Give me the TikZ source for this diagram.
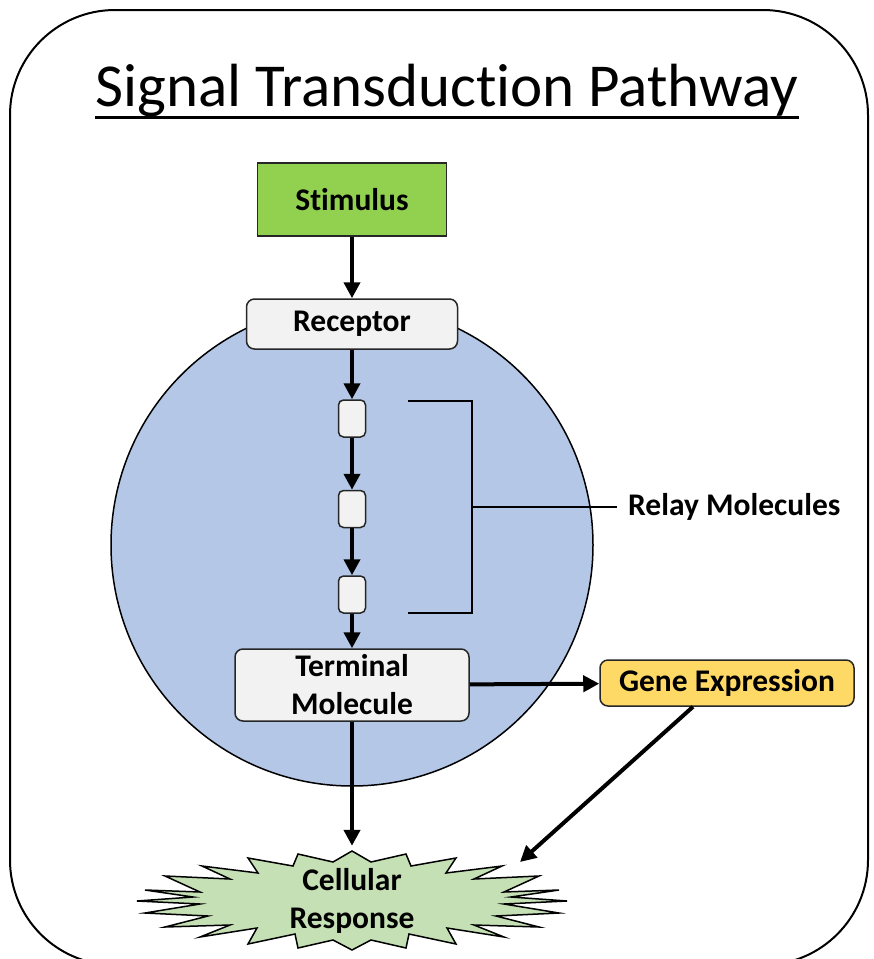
\documentclass[tikz,border=0pt]{standalone}
\usepackage{fontspec}
\setmainfont[RawFeature=-liga]{Carlito}
\usetikzlibrary{arrows.meta,positioning,calc}
\definecolor{stimgreen}{HTML}{92D050}
\definecolor{cellblue}{HTML}{B4C7E7}
\definecolor{boxgray}{HTML}{F2F2F2}
\definecolor{genegold}{HTML}{FFD966}
\definecolor{burstgreen}{HTML}{C5E0B4}
\tikzset{
  box/.style    = {draw=black!85, line width=1.5pt, rectangle, rounded corners=8pt,
                   fill=boxgray, align=center, inner sep=0pt,
                   font=\bfseries\fontsize{31.5}{38}\selectfont},
  relaybox/.style = {box, minimum width=27pt, minimum height=37pt, rounded corners=5pt},
  sig/.style    = {-{Triangle[length=16pt,width=16pt]}, line width=4pt},
  brack/.style  = {line width=1.5pt},
}
\begin{document}
\begin{tikzpicture}[x=1pt, y=-1pt]
\useasboundingbox (0,0) rectangle (874,959);
% frame and title
\draw[line width=2pt, rounded corners=105pt] (10,10) rectangle (868,965);
\node[font=\fontsize{61}{70}\selectfont, anchor=base, inner sep=0pt] (title) at (447,106)
  {Signal Transduction Pathway};
\draw[line width=3pt] ($(title.base west)+(0,11)$) -- ($(title.base east)+(0,11)$);
% cell
\node[circle, draw, line width=1.5pt, fill=cellblue, minimum size=482pt] (cell) at (352,545) {};
% boxes
\node[box, rounded corners=0pt, fill=stimgreen, minimum width=189pt, minimum height=73pt]
  (stim) at (352,199.5) {Stimulus};
\node[box, minimum width=211pt, minimum height=50pt] (rec) at (352,324) {Receptor};
\node[relaybox] (r1) at (352,418.5) {};
\node[relaybox] (r2) at (352,509) {};
\node[relaybox] (r3) at (352,594.5) {};
\node[box, minimum width=234pt, minimum height=72pt] (term) at (352,685)
  {Terminal\\Molecule};
\node[box, fill=genegold, minimum width=254pt, minimum height=46pt] (gene) at (727,683)
  {Gene Expression};
\node[font=\bfseries\fontsize{31.5}{38}\selectfont, anchor=west, inner xsep=11pt, inner ysep=0pt]
  (lbl) at (617,507) {Relay Molecules};
% cellular response burst
\draw[fill=burstgreen, line width=1.5pt] plot coordinates {
  (352,851) (333,862) (298,854) (293,866) (248,858) (258,873) (202,866) (230,879)
  (165,876) (200,892) (145,890) (193,897) (137,901) (200,904) (145,913) (208,916)
  (165,927) (230,925) (200,937) (257,928) (248,944) (295,934) (298,948) (333,940)
  (352,950) (371,940) (406,948) (409,934) (456,944) (447,928) (504,937) (474,925)
  (539,927) (496,916) (559,913) (504,904) (567,901) (511,897) (559,890) (504,892)
  (539,876) (474,879) (502,866) (446,873) (456,858) (411,866) (406,854) (371,862)}
  -- cycle;
\node[font=\bfseries\fontsize{31.5}{38}\selectfont, align=center, minimum height=100pt,
  inner sep=0pt] (resp) at (352,901) {Cellular\\Response};
\coordinate (hit) at (520,862);
% bracket
\draw[brack] (408,401) -- (472,401) -- (472,613) -- (408,613);
\draw[brack] (472,507) -- (lbl.west);
% signal arrows
\draw[sig] (stim) -- (rec);
\draw[sig] (rec) -- (r1);
\draw[sig] (r1) -- (r2);
\draw[sig] (r2) -- (r3);
\draw[sig] (r3) -- (term);
\draw[sig] (term) -- (gene);
\draw[sig, shorten >=5pt] (term) -- (resp.north);
\draw[sig] ($(gene.south)+(-34,0)$) -- (hit);
\end{tikzpicture}
\end{document}
